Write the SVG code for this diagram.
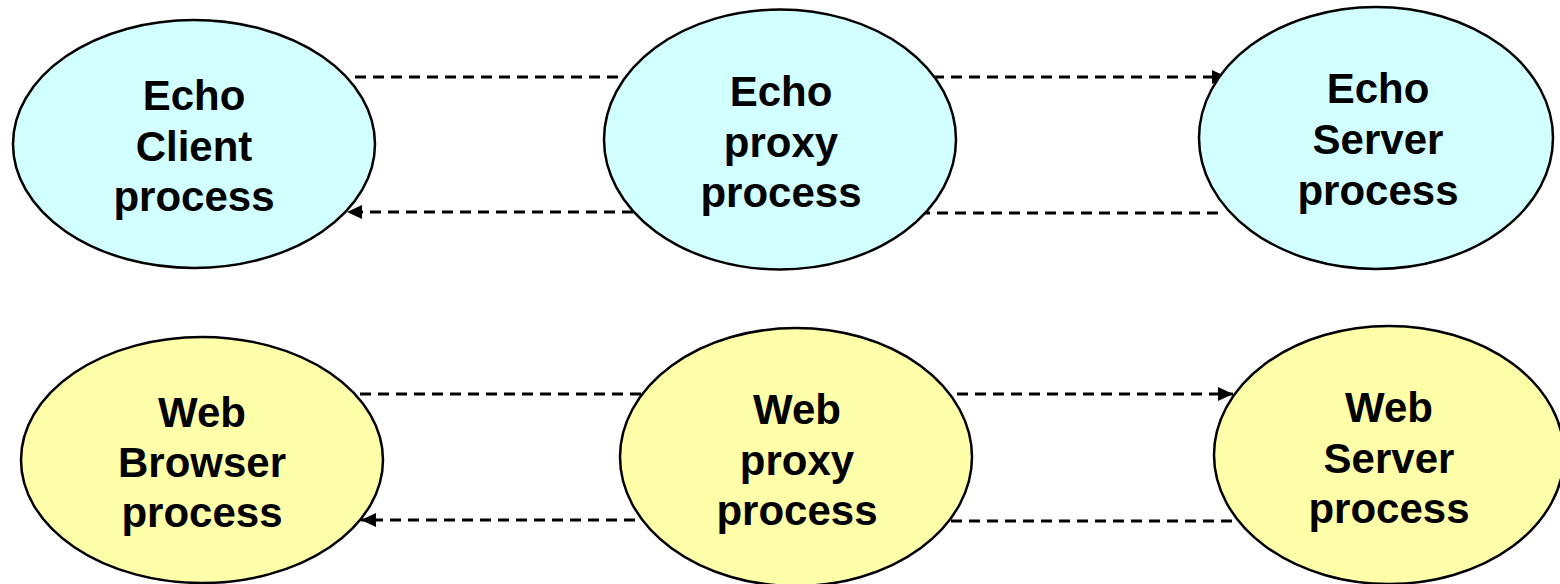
<svg xmlns="http://www.w3.org/2000/svg" width="1560" height="584" viewBox="0 0 1560 584">
<style>
.echo{fill:#D2FFFF;stroke:#000;stroke-width:2.5}
.web{fill:#FFFFAA;stroke:#000;stroke-width:2.5}
.lbl{font-family:"Liberation Sans",Arial,Helvetica,sans-serif;font-weight:bold;font-size:42px;fill:#000;text-anchor:middle}
.conn{fill:none;stroke:#000;stroke-width:2.8;stroke-dasharray:11 7}
</style>
<defs>
<marker id="arr" markerUnits="userSpaceOnUse" markerWidth="16" markerHeight="16" viewBox="0 0 16 16" refX="15" refY="8" orient="auto">
<path d="M0,1 L15,8 L0,15 Z" fill="#000"/>
</marker>
</defs>
<rect width="1560" height="584" fill="#fff"/>
<g id="connectors">
<line class="conn" x1="355" y1="77" x2="665" y2="77" marker-end="url(#arr)"/>
<line class="conn" x1="933" y1="77" x2="1227" y2="77" marker-end="url(#arr)"/>
<line class="conn" x1="1218" y1="213" x2="880" y2="213" marker-end="url(#arr)"/>
<line class="conn" x1="633" y1="212" x2="347" y2="212" marker-end="url(#arr)"/>
<line class="conn" x1="360" y1="394" x2="680" y2="394" marker-end="url(#arr)"/>
<line class="conn" x1="957" y1="394" x2="1233" y2="394" marker-end="url(#arr)"/>
<line class="conn" x1="1232" y1="521" x2="900" y2="521" marker-end="url(#arr)"/>
<line class="conn" x1="635" y1="520" x2="361" y2="520" marker-end="url(#arr)"/>
</g>
<g id="echo-client">
<ellipse class="echo" cx="194" cy="144" rx="181" ry="124"/>
<text class="lbl" x="194" y="110">Echo</text>
<text class="lbl" x="194" y="161">Client</text>
<text class="lbl" x="194" y="211">process</text>
</g>
<g id="echo-proxy">
<ellipse class="echo" cx="780" cy="139.5" rx="176" ry="130"/>
<text class="lbl" x="781" y="106">Echo</text>
<text class="lbl" x="781" y="157">proxy</text>
<text class="lbl" x="781" y="207">process</text>
</g>
<g id="echo-server">
<ellipse class="echo" cx="1376" cy="138" rx="177" ry="131"/>
<text class="lbl" x="1378" y="103">Echo</text>
<text class="lbl" x="1378" y="154">Server</text>
<text class="lbl" x="1378" y="205">process</text>
</g>
<g id="web-browser">
<ellipse class="web" cx="202" cy="460" rx="181" ry="123"/>
<text class="lbl" x="202" y="427">Web</text>
<text class="lbl" x="202" y="477">Browser</text>
<text class="lbl" x="202" y="527">process</text>
</g>
<g id="web-proxy">
<ellipse class="web" cx="796" cy="457" rx="176" ry="129"/>
<text class="lbl" x="797" y="424">Web</text>
<text class="lbl" x="797" y="475">proxy</text>
<text class="lbl" x="797" y="525">process</text>
</g>
<g id="web-server">
<ellipse class="web" cx="1389" cy="455" rx="175" ry="129"/>
<text class="lbl" x="1389" y="422">Web</text>
<text class="lbl" x="1389" y="473">Server</text>
<text class="lbl" x="1389" y="523">process</text>
</g>
</svg>
